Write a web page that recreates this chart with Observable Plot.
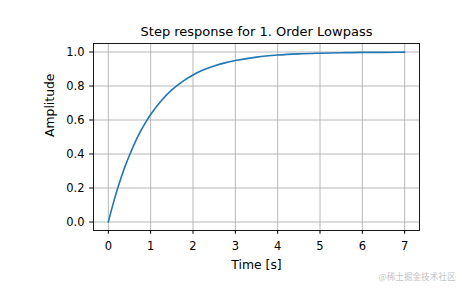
<!DOCTYPE html>
<html>
<head>
<meta charset="utf-8">
<script src="https://cdn.jsdelivr.net/npm/d3@7"></script>
<script src="https://cdn.jsdelivr.net/npm/@observablehq/plot@0.6"></script>
<style>
  html, body { margin: 0; padding: 0; background: #fff; }
  svg { display: block; }
</style>
</head>
<body>
<div id="chart"></div>
<script>
// Values
const time = [0, 0.1, 0.2, 0.3, 0.4, 0.5, 0.6, 0.75, 0.9, 1.0, 1.25, 1.5, 1.75, 2.0, 2.25, 2.5, 2.75, 3.0, 3.5, 4.0, 4.5, 5.0, 5.5, 6.0, 6.5, 7.0];
const amplitude = [0, 0.095, 0.181, 0.259, 0.330, 0.393, 0.451, 0.528, 0.593, 0.632, 0.713, 0.777, 0.826, 0.865, 0.895, 0.918, 0.936, 0.950, 0.970, 0.982, 0.989, 0.993, 0.996, 0.998, 0.998, 0.999];
const xTicks = [0, 1, 2, 3, 4, 5, 6, 7];
const yTicks = [0, 0.2, 0.4, 0.6, 0.8, 1.0];
const titleText = "Step response for 1. Order Lowpass";
const xLabel = "Time [s]";
const yLabel = "Amplitude";
const watermark = "@稀土掘金技术社区";

const data = time.map((t, i) => ({t, a: amplitude[i]}));

const chart = Plot.plot({
  width: 465,
  height: 288,
  marginLeft: 93,
  marginRight: 46,
  marginTop: 43,
  marginBottom: 58,
  style: {fontFamily: "'DejaVu Sans', sans-serif", fontSize: "11.5px", color: "#000", background: "#fff"},
  x: {domain: [-0.35, 7.35], label: null},
  y: {domain: [-0.05, 1.05], label: null},
  marks: [
    Plot.gridX(xTicks, {stroke: "#b0b0b0", strokeOpacity: 1, strokeWidth: 0.9}),
    Plot.gridY(yTicks, {stroke: "#b0b0b0", strokeOpacity: 1, strokeWidth: 0.9}),
    Plot.line(data, {x: "t", y: "a", stroke: "#1f77b4", strokeWidth: 1.6, curve: "monotone-x"}),
    Plot.frame({stroke: "#000", strokeWidth: 0.9}),
    Plot.axisX({ticks: xTicks, tickSize: 3.8, tickPadding: 7.9, tickFormat: d3.format("d"), label: null, stroke: "#000", fontSize: 11.5}),
    Plot.axisY({ticks: yTicks, tickSize: 3.8, tickPadding: 5.2, tickFormat: d3.format(".1f"), label: null, stroke: "#000", fontSize: 11.5}),
    Plot.text([titleText], {frameAnchor: "top", dy: -7.5, fontSize: 13, lineAnchor: "bottom", fill: "#000"}),
    Plot.text([xLabel], {frameAnchor: "bottom", dy: 35, fontSize: 12.4, lineAnchor: "middle", fill: "#000"}),
    Plot.text([yLabel], {frameAnchor: "left", dx: -43, rotate: -90, fontSize: 12.4, lineAnchor: "middle", fill: "#000"}),
    Plot.text([watermark], {frameAnchor: "bottom-right", dx: 36, dy: 47, textAnchor: "end", fontSize: 8.6, lineAnchor: "middle", fill: "#c4c4c4", fontFamily: "'Noto Sans CJK SC', sans-serif"})
  ]
});
document.getElementById("chart").appendChild(chart);
</script>
</body>
</html>
